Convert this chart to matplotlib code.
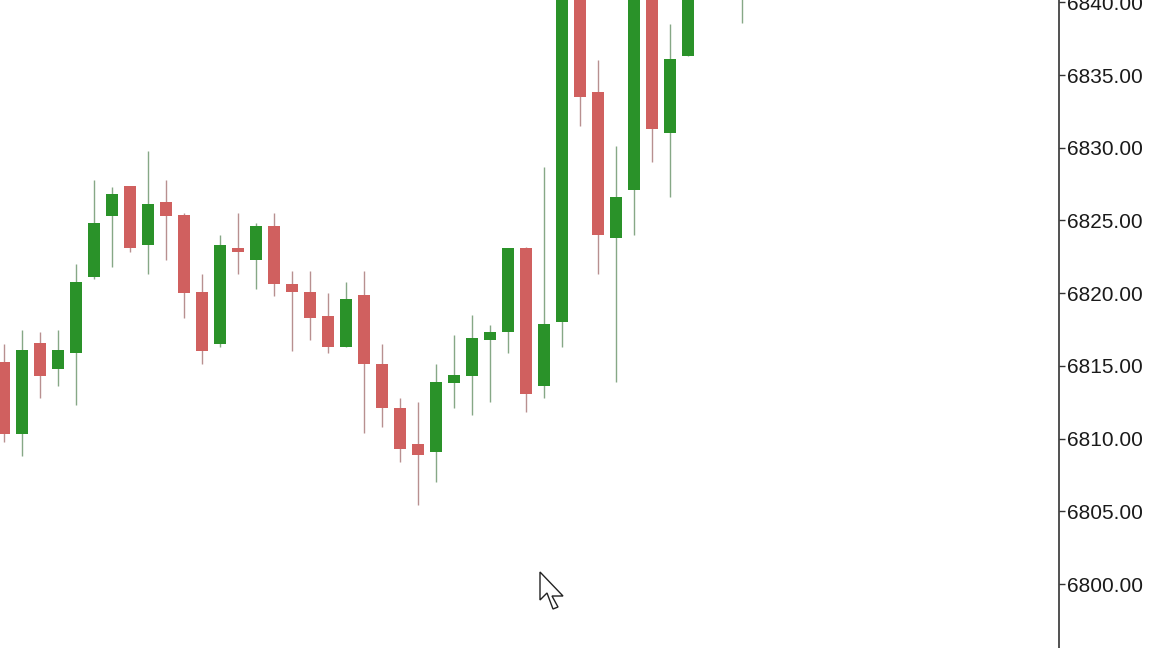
import matplotlib.pyplot as plt
from matplotlib.patches import Polygon
import numpy as np

# OHLC values (bars 31-41 run off the top of the view)
opens = [6815.3, 6810.3, 6816.6, 6814.8, 6815.9, 6821.1, 6825.3, 6827.4, 6823.3, 6826.3,
         6825.4, 6820.1, 6816.5, 6823.1, 6822.3, 6824.6, 6820.6, 6820.1, 6818.4, 6816.3,
         6819.9, 6815.1, 6812.1, 6809.6, 6809.1, 6813.8, 6814.3, 6816.8, 6817.3, 6823.1,
         6813.6, 6818.0, 6842.0, 6833.8, 6823.8, 6827.1, 6842.0, 6831.0, 6836.3, 6843.0,
         6846.0, 6841.0]
highs = [6816.5, 6817.5, 6817.3, 6817.5, 6822.0, 6827.8, 6827.3, 6827.4, 6829.8, 6827.8,
         6825.5, 6821.3, 6824.0, 6825.5, 6824.8, 6825.5, 6821.5, 6821.5, 6820.0, 6820.8,
         6821.5, 6816.5, 6812.8, 6812.5, 6815.1, 6817.1, 6818.5, 6817.8, 6823.1, 6823.2,
         6828.7, 6843.5, 6843.0, 6836.0, 6830.1, 6843.0, 6843.5, 6838.5, 6844.0, 6847.0,
         6847.5, 6846.0]
lows = [6809.8, 6808.8, 6812.8, 6813.6, 6812.3, 6821.0, 6821.8, 6822.8, 6821.3, 6822.3,
        6818.3, 6815.1, 6816.3, 6821.3, 6820.3, 6819.8, 6816.0, 6816.8, 6815.9, 6816.3,
        6810.4, 6810.8, 6808.4, 6805.4, 6807.0, 6812.1, 6811.6, 6812.5, 6815.9, 6811.8,
        6812.8, 6816.3, 6831.5, 6821.3, 6813.9, 6824.0, 6829.0, 6826.6, 6836.3, 6841.5,
        6842.0, 6838.6]
closes = [6810.3, 6816.1, 6814.3, 6816.1, 6820.8, 6824.8, 6826.8, 6823.1, 6826.1, 6825.3,
          6820.0, 6816.0, 6823.3, 6822.8, 6824.6, 6820.6, 6820.1, 6818.3, 6816.3, 6819.6,
          6815.1, 6812.1, 6809.3, 6808.9, 6813.9, 6814.4, 6816.9, 6817.3, 6823.1, 6813.1,
          6817.9, 6842.5, 6833.5, 6824.0, 6826.6, 6842.0, 6831.3, 6836.1, 6843.0, 6846.0,
          6844.0, 6844.5]
price_ticks = [6800, 6805, 6810, 6815, 6820, 6825, 6830, 6835, 6840]

up_color = '#2a9229'
down_color = '#d0605f'

o = np.array(opens)
h = np.array(highs)
l = np.array(lows)
c = np.array(closes)
x = np.arange(len(o))
colors = np.where(c >= o, up_color, down_color)
wick_colors = np.where(c >= o, '#86a886', '#b89090')

fig = plt.figure(figsize=(11.52, 6.48), dpi=100)
ax = fig.add_axes([0, 0, 1059 / 1152, 1])

ax.vlines(x, l, h, colors=wick_colors, linewidth=1.0, zorder=1)
ax.bar(x, np.abs(c - o), bottom=np.minimum(o, c), width=0.72,
       color=colors, linewidth=0, zorder=2)

ax.set_xlim(-0.222, 58.61)
ax.set_ylim(6795.6, 6840.16)

ax.yaxis.tick_right()
ax.set_yticks(price_ticks)
ax.set_yticklabels([f'{v:.2f}' for v in price_ticks], fontfamily='Liberation Sans',
                   fontsize=15, color='#1a1a1a')
ax.tick_params(axis='y', length=4, width=1, pad=2, color='#333333')
ax.set_xticks([])
for side in ['top', 'bottom', 'left']:
    ax.spines[side].set_visible(False)
ax.spines['right'].set_color('#333333')
ax.spines['right'].set_linewidth(1.2)

# mouse pointer left in the screenshot
cursor = [(0, 0), (0, 28), (7, 21), (13, 37), (18, 35), (12, 24), (23, 24)]
tip = (540, 572)
pts = [((tip[0] + px) / 1152, 1 - (tip[1] + py) / 648) for px, py in cursor]
fig.patches.append(Polygon(pts, closed=True, facecolor='white', edgecolor='#222222',
                           linewidth=1.0, transform=fig.transFigure, zorder=5))

fig.savefig('out.png', dpi=100)
